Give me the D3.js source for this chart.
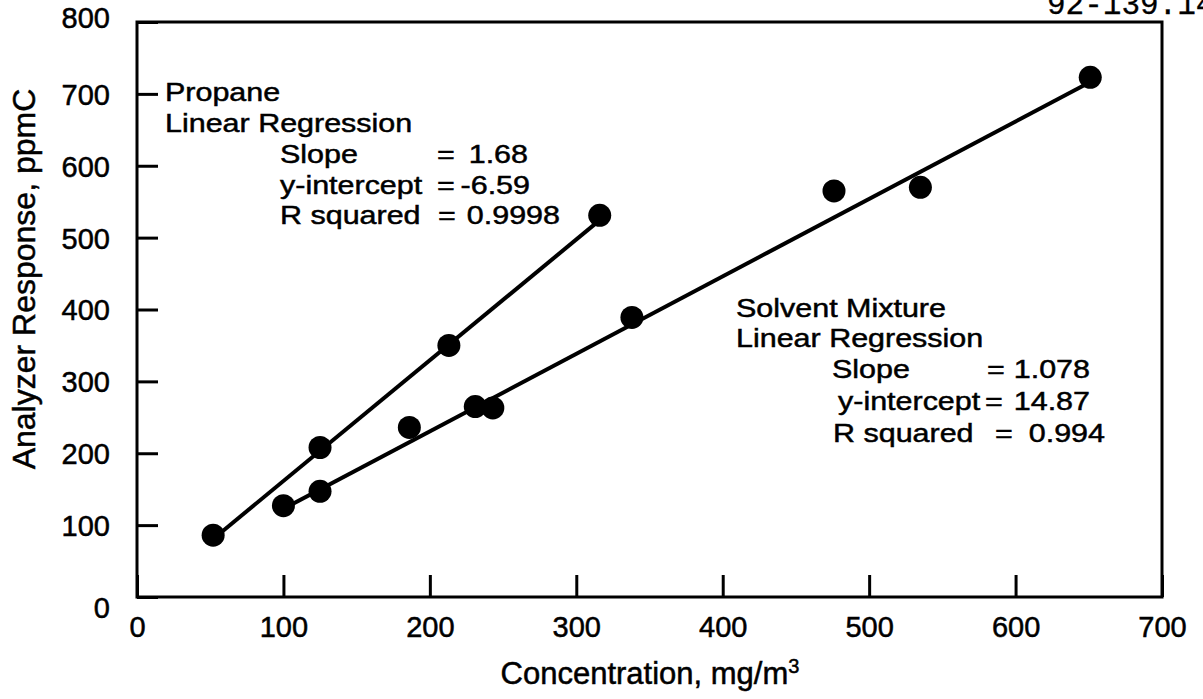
<!DOCTYPE html>
<html>
<head>
<meta charset="utf-8">
<script src="https://cdn.jsdelivr.net/npm/d3@7"></script>
<style>
  body { margin: 0; background: #fff; }
  text { font-family: "Liberation Sans", Arial, sans-serif; fill: #000; stroke: #000; stroke-width: 0.5px; }
</style>
</head>
<body>
<svg id="chart" width="1203" height="699"></svg>
<script>
// data
const propaneX = [52, 125, 213, 316];
const propaneY = [86, 208, 350, 531];
const solventX = [100, 125, 186, 231, 243, 338, 476, 535, 651];
const solventY = [127, 147, 236, 265, 263, 389, 565, 570, 723];
const propaneFit = { slope: 1.68, intercept: -6.59 };
const solventFit = { slope: 1.078, intercept: 14.87 };
const xTicks = [0, 100, 200, 300, 400, 500, 600, 700];
const yTicks = [0, 100, 200, 300, 400, 500, 600, 700, 800];

const svg = d3.select('#chart');
svg.append('rect').attr('width', 1203).attr('height', 699).attr('fill', '#fff');

const x = d3.scaleLinear().domain([0, 700]).range([137, 1162]);
const y = d3.scaleLinear().domain([0, 800]).range([597, 22]);

// axes, ticks point inward
const xAxis = svg.append('g')
  .attr('transform', `translate(0,${y(0)})`)
  .call(d3.axisBottom(x).tickValues(xTicks).tickSizeInner(-22).tickSizeOuter(0).tickPadding(19));
const yAxis = svg.append('g')
  .attr('transform', `translate(${x(0)},0)`)
  .call(d3.axisLeft(y).tickValues(yTicks).tickSizeInner(-21).tickSizeOuter(0).tickPadding(27));

[xAxis, yAxis].forEach(g => {
  g.select('.domain').remove();
  g.selectAll('line').attr('stroke', '#000').attr('stroke-width', 3);
  g.selectAll('text').style('font-size', '29px').attr('fill', '#000');
});
yAxis.selectAll('.tick text').attr('dy', d => d === 0 ? '0.7em' : d === 800 ? '0.2em' : '0.36em');

// frame
svg.append('rect')
  .attr('x', x(0)).attr('y', y(800))
  .attr('width', x(700) - x(0)).attr('height', y(0) - y(800))
  .attr('fill', 'none').attr('stroke', '#000').attr('stroke-width', 3);

// regression lines
function fitLine(xs, fit) {
  const x0 = d3.min(xs), x1 = d3.max(xs);
  svg.append('line')
    .attr('x1', x(x0)).attr('y1', y(fit.slope * x0 + fit.intercept))
    .attr('x2', x(x1)).attr('y2', y(fit.slope * x1 + fit.intercept))
    .attr('stroke', '#000').attr('stroke-width', 4);
}
fitLine(propaneX, propaneFit);
fitLine(solventX, solventFit);

// points
function dots(xs, ys) {
  svg.append('g').selectAll('circle')
    .data(xs.map((d, i) => [d, ys[i]]))
    .join('circle')
    .attr('cx', d => x(d[0]))
    .attr('cy', d => y(d[1]))
    .attr('r', 11.5)
    .attr('fill', '#000');
}
dots(propaneX, propaneY);
dots(solventX, solventY);

// annotation blocks: [x, baseline, text, anchor]
// the scanned lettering is wide for its height, so stretch a smaller size sideways
function note(lines) {
  const g = svg.append('g').style('font-size', '26.5px');
  lines.forEach(l => {
    g.append('text')
      .attr('transform', `translate(${l[0]},${l[1]}) scale(1.15,1)`)
      .attr('text-anchor', l[3] || 'start')
      .text(l[2]);
  });
}
note([
  [165, 101, 'Propane'],
  [165, 132, 'Linear Regression'],
  [280, 163, 'Slope'], [437, 163, '='], [528, 163, propaneFit.slope.toFixed(2), 'end'],
  [280, 194, 'y-intercept'], [437, 194, '='], [530, 194, propaneFit.intercept.toFixed(2), 'end'],
  [280, 224, 'R squared'], [438, 224, '='], [560, 224, '0.9998', 'end']
]);
note([
  [736, 317, 'Solvent Mixture'],
  [736, 347, 'Linear Regression'],
  [832, 378, 'Slope'], [987, 378, '='], [1090, 378, solventFit.slope.toFixed(3), 'end'],
  [838, 410, 'y-intercept'], [985, 410, '='], [1090, 410, solventFit.intercept.toFixed(2), 'end'],
  [833, 442, 'R squared'], [995, 442, '='], [1105, 442, '0.994', 'end']
]);

// axis titles
const xt = svg.append('text')
  .attr('x', 650).attr('y', 684)
  .attr('text-anchor', 'middle')
  .style('font-size', '31px');
xt.append('tspan').text('Concentration, mg/m');
xt.append('tspan').attr('dy', -11).style('font-size', '20px').text('3');

svg.append('text')
  .attr('transform', 'translate(35,279) rotate(-90)')
  .attr('text-anchor', 'middle')
  .style('font-size', '32px')
  .text('Analyzer Response, ppmC');

// document number, cut at the page edge as in the scan
svg.append('text')
  .attr('x', 1047).attr('y', 14)
  .style('font-family', '"Liberation Mono", monospace')
  .style('stroke-width', '0.3px')
  .style('font-size', '31px')
  .text('92-139.14');
</script>
</body>
</html>
